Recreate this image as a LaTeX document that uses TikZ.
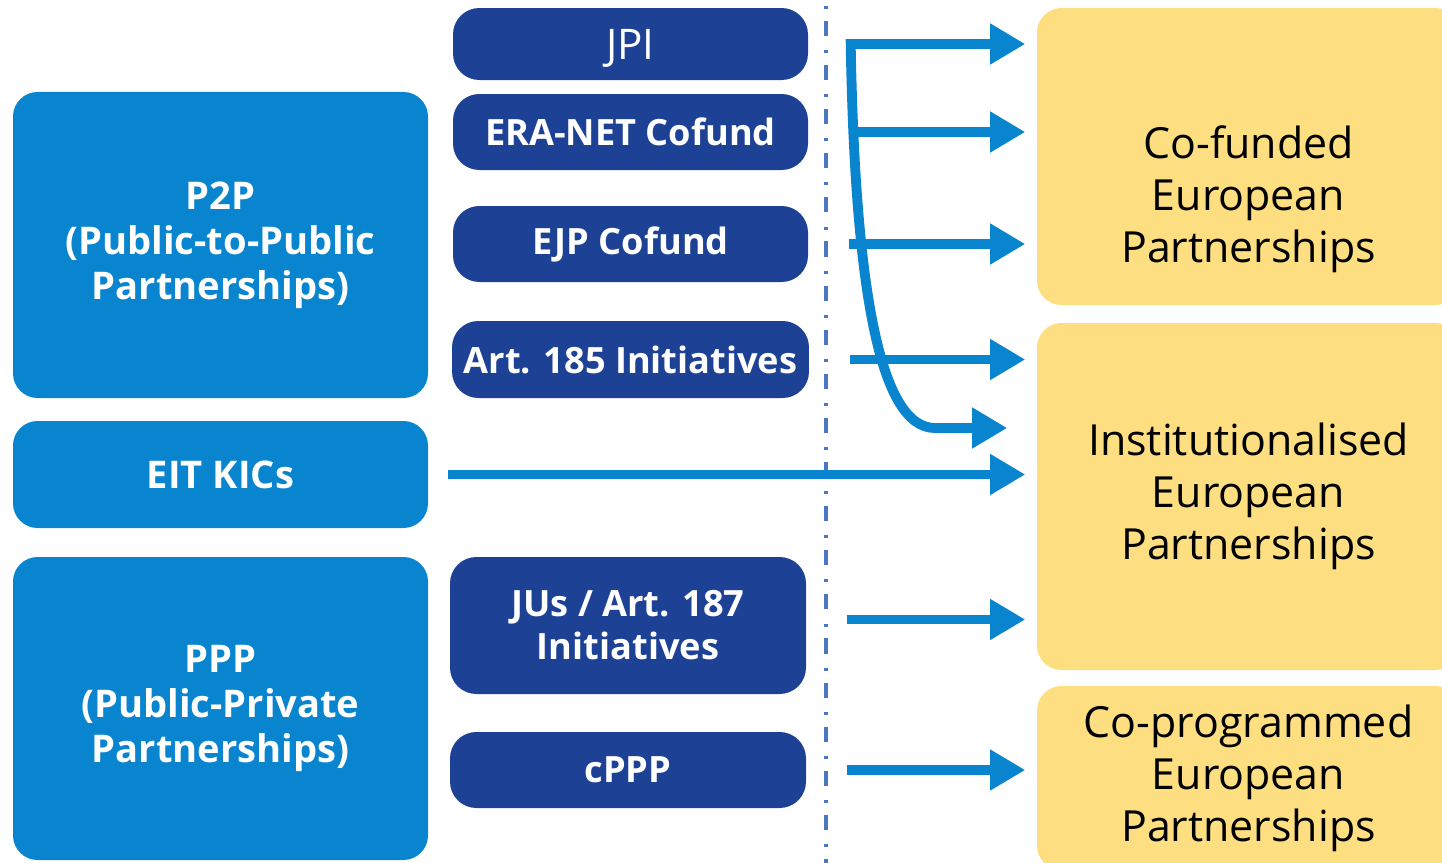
\documentclass[tikz,border=0pt]{standalone}
\usepackage{fontspec}
\setmainfont{Open Sans}
\usetikzlibrary{arrows.meta}
\definecolor{pblue}{RGB}{9,133,207}
\definecolor{pdark}{RGB}{29,66,149}
\definecolor{pyellow}{RGB}{253,222,128}
\definecolor{pdots}{RGB}{74,120,192}
\tikzset{>/.tip={Triangle[length=10pt,width=11pt]}}

\begin{document}
\begin{tikzpicture}[
  bigbox/.style={fill=pblue, rounded corners=7pt, minimum width=4.15cm, text=white,
    font=\bfseries\fontsize{10.85}{12.8}\selectfont, align=center},
  smallbox/.style={fill=pdark, rounded corners=7.5pt, minimum width=3.55cm, text=white,
    font=\bfseries\fontsize{10.3}{12.2}\selectfont, align=center},
  ybox/.style={fill=pyellow, rounded corners=7pt, minimum width=4.23cm,
    font=\fontsize{12.2}{14.8}\selectfont, align=center},
  flow/.style={->, pblue, line width=2.8pt, shorten <=0.4cm, shorten >=0.11cm},
]
\useasboundingbox[fill=white] (0,0) rectangle (14.42,-8.63);

% left column
\node[bigbox, minimum height=3.06cm] (p2p) at (2.205,-2.45) {P2P\\(Public-to-Public\\Partnerships)};
\node[bigbox, minimum height=1.07cm] (eit) at (2.205,-4.745) {EIT KICs};
\node[bigbox, minimum height=3.03cm] (ppp) at (2.205,-7.085) {PPP\\(Public-Private\\Partnerships)};

% instruments
\node[smallbox, minimum height=0.72cm, font=\fontsize{12}{14}\selectfont, text depth=0pt] (jpi) at (6.305,-0.44) {JPI};
\node[smallbox, minimum height=0.76cm] (era) at (6.305,-1.32) {ERA-NET Cofund};
\node[smallbox, minimum height=0.76cm] (ejp) at (6.305,-2.44) {EJP Cofund};
\node[smallbox, minimum height=0.77cm] (art) at (6.305,-3.595) {Art. 185 Initiatives};
\node[smallbox, minimum height=1.37cm, minimum width=3.56cm] (jus) at (6.28,-6.255) {JUs / Art. 187\\Initiatives};
\node[smallbox, minimum height=0.76cm, minimum width=3.56cm] (cppp) at (6.28,-7.70) {cPPP};

% partnerships
\node[ybox, minimum height=2.97cm,
  label={[font=\fontsize{12.2}{14.8}\selectfont, align=center, yshift=-0.43cm]center:Co-funded\\European\\Partnerships}] (cofund) at (12.485,-1.565) {};
\node[ybox, minimum height=3.47cm] (inst) at (12.485,-4.965) {Institutionalised\\European\\Partnerships};
\node[ybox, minimum height=1.84cm] (coprog) at (12.485,-7.78) {Co-programmed\\European\\Partnerships};

% divider
\coordinate (dtop) at (8.26,-0.06);
\coordinate (dbot) at (8.26,-8.63);
\draw[pdots, line width=1.2pt, dash pattern=on 0.85pt off 3.4pt on 4.3pt off 4pt] (dtop) -- (dbot);

% arrows
\coordinate (jpiout) at ([xshift=0.42cm]jpi.east);
\coordinate (bend) at (9.35,-4.28);
\draw[flow, <->, shorten <=0.11cm, shorten >=0.29cm, line join=miter]
  (jpiout -| cofund.west) -- (jpiout) .. controls (8.55,-2.9) and (8.8,-4.28) .. (bend) -- (bend -| inst.west);
\draw[flow] (era.east) -- (era.east -| cofund.west);
\draw[flow] (ejp.east) -- (ejp.east -| cofund.west);
\draw[flow] (art.east) -- (art.east -| inst.west);
\draw[flow, shorten <=0.19cm] (eit.east) -- (eit.east -| inst.west);
\draw[flow] ([yshift=0.06cm]jus.east) -- ([yshift=0.06cm]jus.east -| inst.west);
\draw[flow] (cppp.east) -- (cppp.east -| coprog.west);
\end{tikzpicture}
\end{document}
